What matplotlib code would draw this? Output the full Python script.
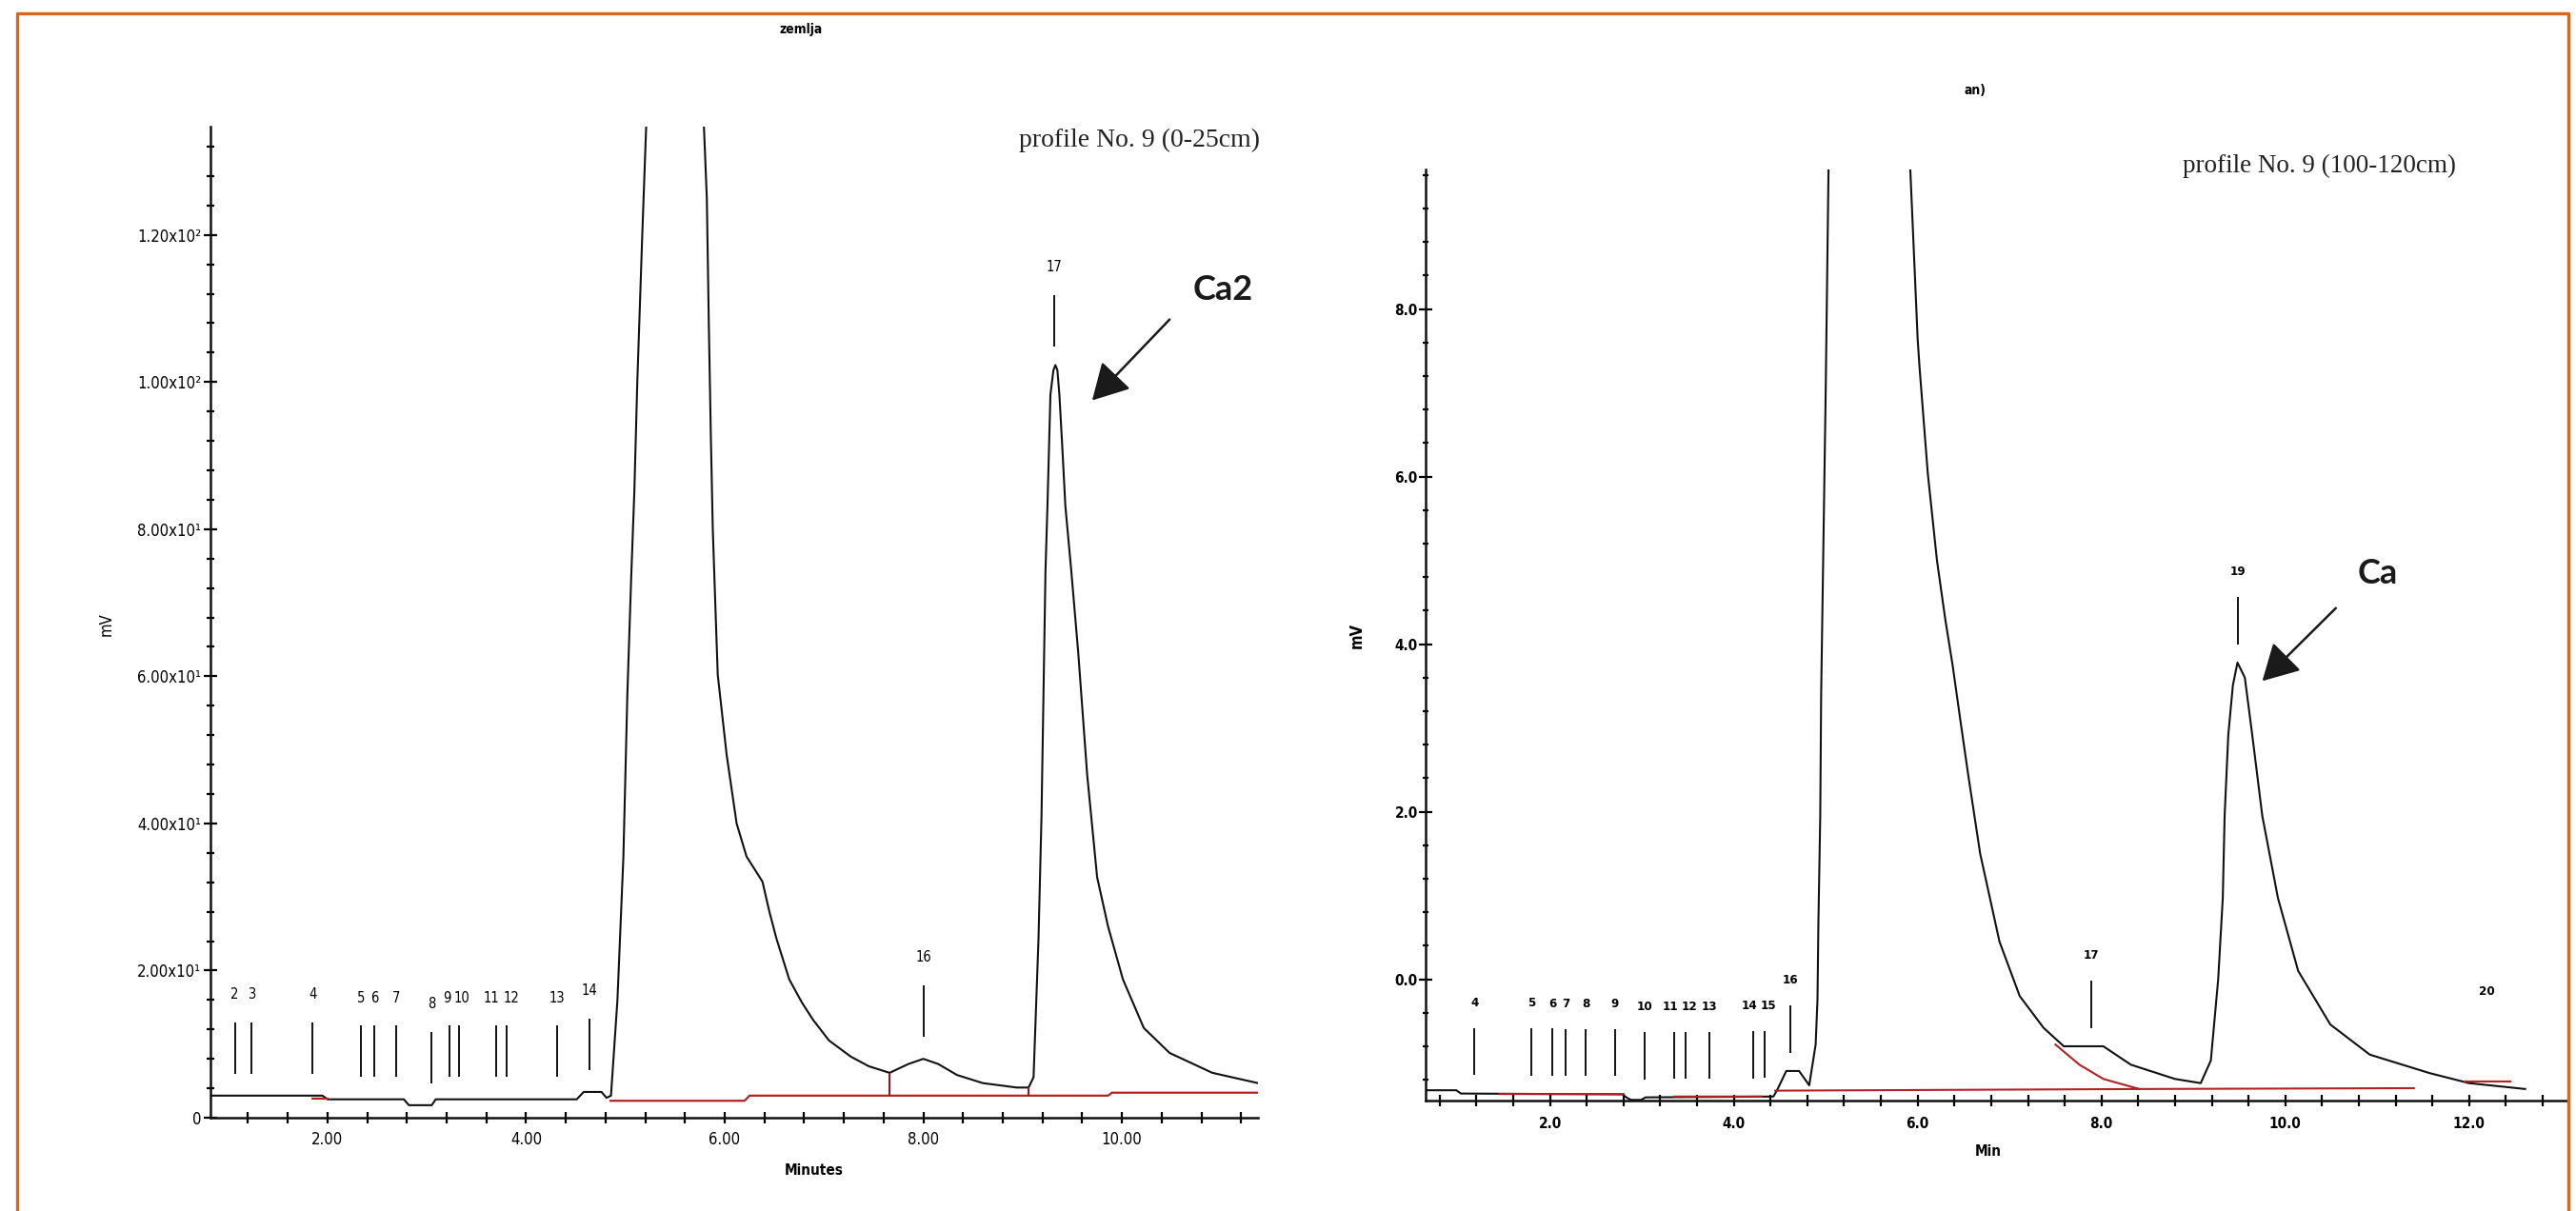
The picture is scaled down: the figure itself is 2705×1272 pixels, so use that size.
import numpy as np
import matplotlib
matplotlib.use("Agg")
import matplotlib.pyplot as plt
from matplotlib import font_manager
from matplotlib.ticker import FixedLocator, MultipleLocator
from matplotlib.lines import Line2D

NAN = float("nan")

# -------------------------------
# LEFT: profile No. 9 (0-25cm)
# -------------------------------
left_time = [0.82, 1.95, 2.00, 2.77, 2.82, 3.05, 3.09, 4.51, 4.58, 4.76, 4.81, 4.855,
             4.92, 4.98, 5.02, 5.06, 5.09, 5.12, 5.17, 5.21, 5.50, 5.79, 5.82, 5.84,
             5.86, 5.88, 5.91, 5.93, 6.02, 6.12, 6.22, 6.30, 6.38, 6.45, 6.52, 6.65,
             6.78, 6.89, 7.05, 7.27, 7.45, 7.66, 7.85, 8.00, 8.15, 8.34, 8.60, 8.94, 9.06,
             9.11, 9.16, 9.19, 9.21, 9.23, 9.25, 9.28, 9.31, 9.33, 9.35, 9.37, 9.40,
             9.43, 9.49, 9.56, 9.65, 9.75, 9.86, 10.01, 10.22, 10.48, 10.91, 11.37]
left_mv = [3.0, 3.0, 2.5, 2.5, 1.7, 1.7, 2.5, 2.5, 3.5, 3.5, 2.7, 3.0,
           16.0, 35.5, 57.6, 74.0, 85.0, 100.0, 120.0, 135.0, 170.0, 135.0, 125.0, 108.0,
           93.0, 80.0, 68.0, 60.2, 49.3, 40.0, 35.5, 33.8, 32.1, 28.0, 24.4, 18.8,
           15.6, 13.3, 10.5, 8.3, 7.0, 6.1, 7.3, 8.0, 7.3, 5.8, 4.7, 4.1, 4.1,
           5.5, 24.4, 41.0, 57.6, 74.3, 83.2, 98.3, 101.6, 102.3, 101.6, 98.3, 91.0,
           83.2, 74.3, 63.2, 46.6, 32.7, 26.0, 18.8, 12.2, 8.8, 6.1, 4.7]

left_base_time = [1.85, 2.00, NAN, 4.85, 6.20, 6.25, 9.86, 9.90, 11.37]
left_base_mv = [2.6, 2.6, NAN, 2.3, 2.3, 3.0, 3.0, 3.4, 3.4]
left_drop_time = [7.66, 9.06]

left_peak_ids = ["2", "3", "4", "5", "6", "7", "8", "9", "10", "11", "12", "13", "14", "16", "17"]
left_peak_rt = [1.068, 1.234, 1.850, 2.334, 2.472, 2.692, 3.050, 3.226, 3.325, 3.699,
                3.809, 4.316, 4.635, 8.003, 9.317]

left_yticks = [0, 20, 40, 60, 80, 100, 120]
left_ylabels = ["0", "2.00x10¹", "4.00x10¹", "6.00x10¹", "8.00x10¹", "1.00x10²", "1.20x10²"]
left_xticks = [2, 4, 6, 8, 10]
left_xlabels = ["2.00", "4.00", "6.00", "8.00", "10.00"]

# -------------------------------
# RIGHT: profile No. 9 (100-120cm)
# -------------------------------
right_time = [0.65, 0.98, 1.03, 2.79, 2.83, 2.88, 2.99, 3.04, 4.43, 4.47, 4.57, 4.71,
              4.82, 4.89, 4.91, 4.92, 4.94, 4.95, 4.97, 5.00, 5.03, 5.40, 5.92, 6.00,
              6.02, 6.11, 6.21, 6.30, 6.38, 6.47, 6.55, 6.68, 6.89, 7.11, 7.37,
              7.59, 8.02, 8.32, 8.80, 9.08, 9.19, 9.27, 9.32, 9.34, 9.38, 9.43, 9.48,
              9.56, 9.64, 9.75, 9.92, 10.14, 10.49, 10.92, 11.57, 12.00, 12.61]
right_mv = [-1.325, -1.325, -1.364, -1.374, -1.41, -1.44, -1.44, -1.41, -1.40, -1.325, -1.095, -1.095,
            -1.266, -0.78, -0.243, 0.68, 1.95, 3.41, 4.87, 7.07, 9.66, 14.0, 9.66, 7.64,
            7.31, 6.04, 5.00, 4.30, 3.75, 3.05, 2.44, 1.50, 0.45, -0.20, -0.58,
            -0.80, -0.80, -1.02, -1.19, -1.24, -0.97, 0.0, 0.97, 1.95, 2.92, 3.51, 3.78,
            3.60, 2.92, 1.95, 0.97, 0.10, -0.54, -0.90, -1.12, -1.24, -1.31]

right_base_time = [1.45, 2.80, NAN, 3.35, 4.30, NAN, 4.45, 8.45, 11.40, NAN,
                   11.95, 12.45, NAN, 7.50, 7.76, 8.02, 8.41]
right_base_mv = [-1.37, -1.37, NAN, -1.40, -1.40, NAN, -1.33, -1.31, -1.30, NAN,
                 -1.22, -1.22, NAN, -0.78, -1.02, -1.19, -1.31]

right_peak_ids = ["4", "5", "6", "7", "8", "9", "10", "11", "12", "13", "14", "15", "16", "17", "19"]
right_peak_rt = [1.178, 1.800, 2.024, 2.169, 2.387, 2.708, 3.033, 3.354, 3.475, 3.737,
                 4.207, 4.338, 4.614, 7.890, 9.480]

right_yticks = [0, 2, 4, 6, 8]
right_ylabels = ["0.0", "2.0", "4.0", "6.0", "8.0"]
right_xticks = [2, 4, 6, 8, 10, 12]
right_xlabels = ["2.0", "4.0", "6.0", "8.0", "10.0", "12.0"]

# -------------------------------
# FONTS
# -------------------------------
_names = {f.name for f in font_manager.fontManager.ttflist}
NARROW = "Liberation Sans Narrow" if "Liberation Sans Narrow" in _names else "DejaVu Sans"
SERIF = "Liberation Serif"
CALLOUT = "Lato" if "Lato" in _names else "DejaVu Sans"

W, H = 2705, 1272
fig = plt.figure(figsize=(W / 100, H / 100), dpi=100)
fig.patch.set_facecolor("white")


def px_axes(x0, y0, x1, y1):
    return fig.add_axes([x0 / W, 1 - y1 / H, (x1 - x0) / W, (y1 - y0) / H])


def style_axes(ax, bold=False):
    for s in ["top", "right"]:
        ax.spines[s].set_visible(False)
    for s in ["left", "bottom"]:
        ax.spines[s].set_linewidth(1.8)
        ax.spines[s].set_color("#111111")
    ax.set_facecolor("none")
    wt = "bold" if bold else "normal"
    for lab in ax.get_xticklabels() + ax.get_yticklabels():
        lab.set_fontfamily(NARROW)
        lab.set_fontstretch("condensed")
        lab.set_fontweight(wt)


def peak_labels(ax, rts, ids, base, gap, length, label_off, nudge, size, weight):
    # tick mark above the trace with the peak number on top
    lo = np.asarray(base) + gap
    ax.vlines(rts, lo, lo + length, color="#111111", lw=1.4)
    for rt, y, pid in zip(rts, lo, ids):
        ax.text(rt + nudge.get(pid, 0.0), y + label_off, pid, ha="center", va="center",
                fontsize=size, family=NARROW, fontstretch="condensed", fontweight=weight)


ARROW = dict(arrowstyle="-|>,head_length=0.9,head_width=0.5", mutation_scale=26,
             lw=1.8, color="#1a1a1a", shrinkA=0, shrinkB=0)

# -------------------------------
# LEFT PANEL
# -------------------------------
axL = px_axes(221, 132.7, 1321, 1174)
axL.plot(left_time, left_mv, color="#111111", lw=1.5)
axL.plot(left_base_time, left_base_mv, color="#B22222", lw=1.6)
axL.vlines(left_drop_time, 3.0, np.interp(left_drop_time, left_time, left_mv),
           color="#8B1A1A", lw=1.5)

peak_labels(axL, left_peak_rt, left_peak_ids,
            np.interp(left_peak_rt, left_time, left_mv), 3.0, 7.0, 10.8,
            {"9": -0.02, "10": 0.025, "11": -0.045, "12": 0.045}, 10.5, "normal")

axL.set_xlim(0.822, 11.37)
axL.set_ylim(0, 134.75)
axL.yaxis.set_major_locator(FixedLocator(left_yticks))
axL.set_yticklabels(left_ylabels)
axL.yaxis.set_minor_locator(MultipleLocator(4))
axL.xaxis.set_major_locator(FixedLocator(left_xticks))
axL.set_xticklabels(left_xlabels)
axL.xaxis.set_minor_locator(MultipleLocator(0.4))
axL.tick_params(axis="y", which="major", direction="inout", length=10, width=1.6,
                labelsize=12, pad=2)
axL.tick_params(axis="y", which="minor", direction="inout", length=6, width=1.6)
axL.tick_params(axis="x", which="both", direction="inout", length=8, width=1.6,
                labelsize=12, pad=6)
style_axes(axL)

axL.annotate("", xy=(9.70, 97.5), xytext=(10.48, 108.5), arrowprops=ARROW)
axL.text(11.02, 112.5, "Ca2", fontsize=26, family=CALLOUT, fontweight="bold",
         color="#1a1a1a", ha="center", va="center")

# -------------------------------
# RIGHT PANEL
# -------------------------------
axR = px_axes(1497, 178, 2696, 1156)
axR.plot(right_time, right_mv, color="#111111", lw=1.5)
axR.plot(right_base_time, right_base_mv, color="#B22222", lw=1.5)

peak_labels(axR, right_peak_rt, right_peak_ids,
            np.interp(right_peak_rt, right_time, right_mv), 0.22, 0.56, 0.86,
            {"11": -0.045, "12": 0.045, "14": -0.04, "15": 0.04}, 9.5, "bold")
axR.text(12.19, -0.15, "20", ha="center", va="center", fontsize=9.5,
         family=NARROW, fontstretch="condensed", fontweight="bold")

axR.set_xlim(0.646, 13.07)
axR.set_ylim(-1.448, 9.666)
axR.yaxis.set_major_locator(FixedLocator(right_yticks))
axR.set_yticklabels(right_ylabels)
axR.yaxis.set_minor_locator(MultipleLocator(0.4))
axR.xaxis.set_major_locator(FixedLocator(right_xticks))
axR.set_xticklabels(right_xlabels)
axR.xaxis.set_minor_locator(MultipleLocator(0.4))
axR.tick_params(axis="y", which="major", direction="inout", length=10, width=1.6,
                labelsize=11, pad=1)
axR.tick_params(axis="y", which="minor", direction="inout", length=5, width=1.6)
axR.tick_params(axis="x", which="both", direction="inout", length=8, width=1.6,
                labelsize=11, pad=8)
style_axes(axR, bold=True)

axR.annotate("", xy=(9.75, 3.56), xytext=(10.55, 4.43), arrowprops=ARROW)
axR.text(11.01, 4.84, "Ca", fontsize=26, family=CALLOUT, fontweight="bold",
         color="#1a1a1a", ha="center", va="center")

# -------------------------------
# FIGURE TEXT
# -------------------------------
fig.text(1197 / W, 1 - 147 / H, "profile No. 9 (0-25cm)", family=SERIF, fontsize=20,
         ha="center", va="center", color="#222222")
fig.text(2436 / W, 1 - 174 / H, "profile No. 9 (100-120cm)", family=SERIF, fontsize=19.5,
         ha="center", va="center", color="#222222")
fig.text(841 / W, 1 - 31 / H, "zemlja", family=NARROW, fontstretch="condensed",
         fontweight="bold", fontsize=10, ha="center", va="center")
fig.text(2074 / W, 1 - 95 / H, "an)", family=NARROW, fontstretch="condensed",
         fontweight="bold", fontsize=10, ha="center", va="center")
fig.text(855 / W, 1 - 1230 / H, "Minutes", family=NARROW, fontstretch="condensed",
         fontweight="bold", fontsize=11, ha="center", va="center")
fig.text(2088 / W, 1 - 1209 / H, "Min", family=NARROW, fontstretch="condensed",
         fontweight="bold", fontsize=11, ha="center", va="center")
fig.text(112 / W, 1 - 656 / H, "mV", family=NARROW, fontstretch="condensed",
         fontsize=12, rotation=90, ha="center", va="center")
fig.text(1425 / W, 1 - 667 / H, "mV", family=NARROW, fontstretch="condensed",
         fontweight="bold", fontsize=12, rotation=90, ha="center", va="center")

# orange frame (left, top, right edges)
frame = "#D2691E"
fig.add_artist(Line2D([18 / W, 18 / W, 2697 / W, 2697 / W],
                      [0, 1 - 14 / H, 1 - 14 / H, 0],
                      transform=fig.transFigure, color=frame, lw=2.4))

fig.savefig("out.png", dpi=100)
